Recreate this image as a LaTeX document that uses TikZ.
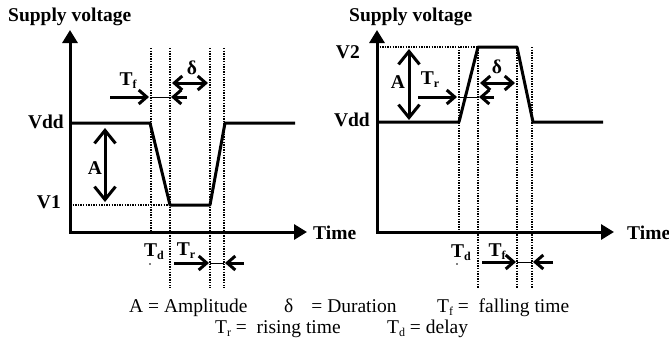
\documentclass[tikz,border=0pt]{standalone}
\usepackage{fontspec}
\setmainfont{Liberation Serif}
\usetikzlibrary{arrows.meta}
\newcommand{\mysub}[1]{\raisebox{-0.35ex}{\fontsize{12}{12}\selectfont #1}}
\begin{document}
\begin{tikzpicture}[x=1pt,y=-1pt,
  wave/.style={line width=3pt,line join=round},
  axisline/.style={line width=3pt,{Triangle[length=13pt,width=15pt]}-{Triangle[length=13pt,width=15pt]}},
  dotv/.style={line width=1.6pt,dash pattern=on 1.3pt off 1.3pt},
  onearrow/.style={line width=3pt,-{Straight Barb[length=8pt,width=14pt]}},
  twoarrow/.style={line width=3pt,{Straight Barb[length=8pt,width=14pt]}-{Straight Barb[length=8pt,width=14pt]}},
  bigarrow/.style={line width=3pt,{Straight Barb[length=13pt,width=21pt]}-{Straight Barb[length=13pt,width=21pt]}},
  thinline/.style={line width=1pt},
  lab/.style={font=\bfseries\fontsize{19.5}{20}\selectfont,inner sep=0pt},
  legend/.style={font=\fontsize{19.5}{22}\selectfont,inner sep=0pt,anchor=base west}]
\useasboundingbox (0,0) rectangle (669,341);
% ---------------- left panel ----------------
\coordinate (Y1) at (70,30); \coordinate (O1) at (70,232); \coordinate (X1) at (307,232);
\draw[axisline] (Y1) -- (O1) -- (X1);
\coordinate (a1) at (70,123); \coordinate (b1) at (150,123); \coordinate (c1) at (170,205);
\coordinate (d1) at (210,205); \coordinate (e1) at (225,123); \coordinate (f1) at (295,123);
\coordinate (v1s) at (70,205);
\draw[dotv] (v1s) -- (c1);
\coordinate (L1t) at (151,48); \coordinate (L1b) at (151,232);
\coordinate (L2t) at (170,48); \coordinate (L2b) at (170,288);
\coordinate (L3t) at (210,48); \coordinate (L3b) at (210,288);
\coordinate (L4t) at (224,48); \coordinate (L4b) at (224,288);
\foreach \i in {1,2,3,4} \draw[dotv] (L\i t) -- (L\i b);
\draw[wave] (a1) -- (b1) -- (c1) -- (d1) -- (e1) -- (f1);
% dimension arrows
\coordinate (tfa) at (110,97); \coordinate (tfb) at (149,97);
\coordinate (tfc) at (151,97); \coordinate (tfd) at (170,97);
\coordinate (tfe) at (187,97); \coordinate (tff) at (171,97);
\draw[onearrow] (tfa) -- (tfb);
\draw[thinline] (tfc) -- (tfd);
\draw[onearrow] (tfe) -- (tff);
\coordinate (dla) at (172,83); \coordinate (dlb) at (208,83);
\draw[twoarrow] (dla) -- (dlb);
\coordinate (Ala) at (105,128); \coordinate (Alb) at (105,202);
\draw[bigarrow] (Ala) -- (Alb);
\coordinate (tra) at (174,263); \coordinate (trb) at (209,263);
\coordinate (trc) at (210,263); \coordinate (trd) at (224,263);
\coordinate (tre) at (244,263); \coordinate (trf) at (225,263);
\draw[onearrow] (tra) -- (trb);
\draw[thinline] (trc) -- (trd);
\draw[onearrow] (tre) -- (trf);
% labels
\node[lab,anchor=west] (sv1) at (8,17) {Supply voltage};
\node[lab,anchor=east] (vdd1) at (64,122) {Vdd};
\node[lab,anchor=east] (v1) at (61,202) {V1};
\node[lab] (A1) at (95,168) {A};
\node[lab] (Tf1) at (128,81) {T\mysub{f}};
\node[lab] (dl1) at (192,68) {δ};
\node[lab,anchor=west] (t1) at (313,233) {Time};
\node[lab] (Td1) at (154,252) {T\mysub{d}};
\node[lab] (Tr1) at (186,251) {T\mysub{r}};
\fill (150,264) circle (0.9pt);
% ---------------- right panel ----------------
\coordinate (Y2) at (377,30); \coordinate (O2) at (377,232); \coordinate (X2) at (614,232);
\draw[axisline] (Y2) -- (O2) -- (X2);
\coordinate (a2) at (377,122); \coordinate (b2) at (459,122); \coordinate (c2) at (478,47);
\coordinate (d2) at (517,47); \coordinate (e2) at (533,122); \coordinate (f2) at (603,122);
\coordinate (v2s) at (377,47);
\draw[dotv] (v2s) -- (c2);
\coordinate (R1t) at (459,47); \coordinate (R1b) at (459,232);
\coordinate (R2t) at (478,47); \coordinate (R2b) at (478,288);
\coordinate (R3t) at (517,47); \coordinate (R3b) at (517,288);
\coordinate (R4t) at (532,47); \coordinate (R4b) at (532,288);
\foreach \i in {1,2,3,4} \draw[dotv] (R\i t) -- (R\i b);
\draw[wave] (a2) -- (b2) -- (c2) -- (d2) -- (e2) -- (f2);
\coordinate (Ara) at (409,49); \coordinate (Arb) at (409,120);
\draw[bigarrow] (Ara) -- (Arb);
\coordinate (rra) at (418,97); \coordinate (rrb) at (457,97);
\coordinate (rrc) at (459,97); \coordinate (rrd) at (478,97);
\coordinate (rre) at (494,97); \coordinate (rrf) at (479,97);
\draw[onearrow] (rra) -- (rrb);
\draw[thinline] (rrc) -- (rrd);
\draw[onearrow] (rre) -- (rrf);
\coordinate (dra) at (480,83); \coordinate (drb) at (515,83);
\draw[twoarrow] (dra) -- (drb);
\coordinate (rfa) at (482,262); \coordinate (rfb) at (516,262);
\coordinate (rfc) at (517,262); \coordinate (rfd) at (532,262);
\coordinate (rfe) at (553,262); \coordinate (rff) at (533,262);
\draw[onearrow] (rfa) -- (rfb);
\draw[thinline] (rfc) -- (rfd);
\draw[onearrow] (rfe) -- (rff);
\node[lab,anchor=west] (sv2) at (349,17) {Supply voltage};
\node[lab,anchor=east] (v2) at (360,52) {V2};
\node[lab,anchor=east] (vdd2) at (370,120) {Vdd};
\node[lab] (A2) at (398,82) {A};
\node[lab] (Tr2) at (430,80) {T\mysub{r}};
\node[lab] (dl2) at (497,67) {δ};
\node[lab,anchor=west] (t2) at (627,233) {Time};
\node[lab] (Td2) at (461,253) {T\mysub{d}};
\node[lab] (Tf2) at (497,252) {T\mysub{f}};
\fill (457,264) circle (0.9pt);
% ---------------- legend ----------------
\node[legend] (lg1) at (129,312) {A = Amplitude};
\node[legend] (lg2) at (284,312) {δ\hspace*{18pt}= Duration};
\node[legend] (lg3) at (437,312) {T\mysub{f} =\ \ falling time};
\node[legend] (lg4) at (215,333) {T\mysub{r} =\ \ rising time};
\node[legend] (lg5) at (387,333) {T\mysub{d} = delay};
\end{tikzpicture}
\end{document}
